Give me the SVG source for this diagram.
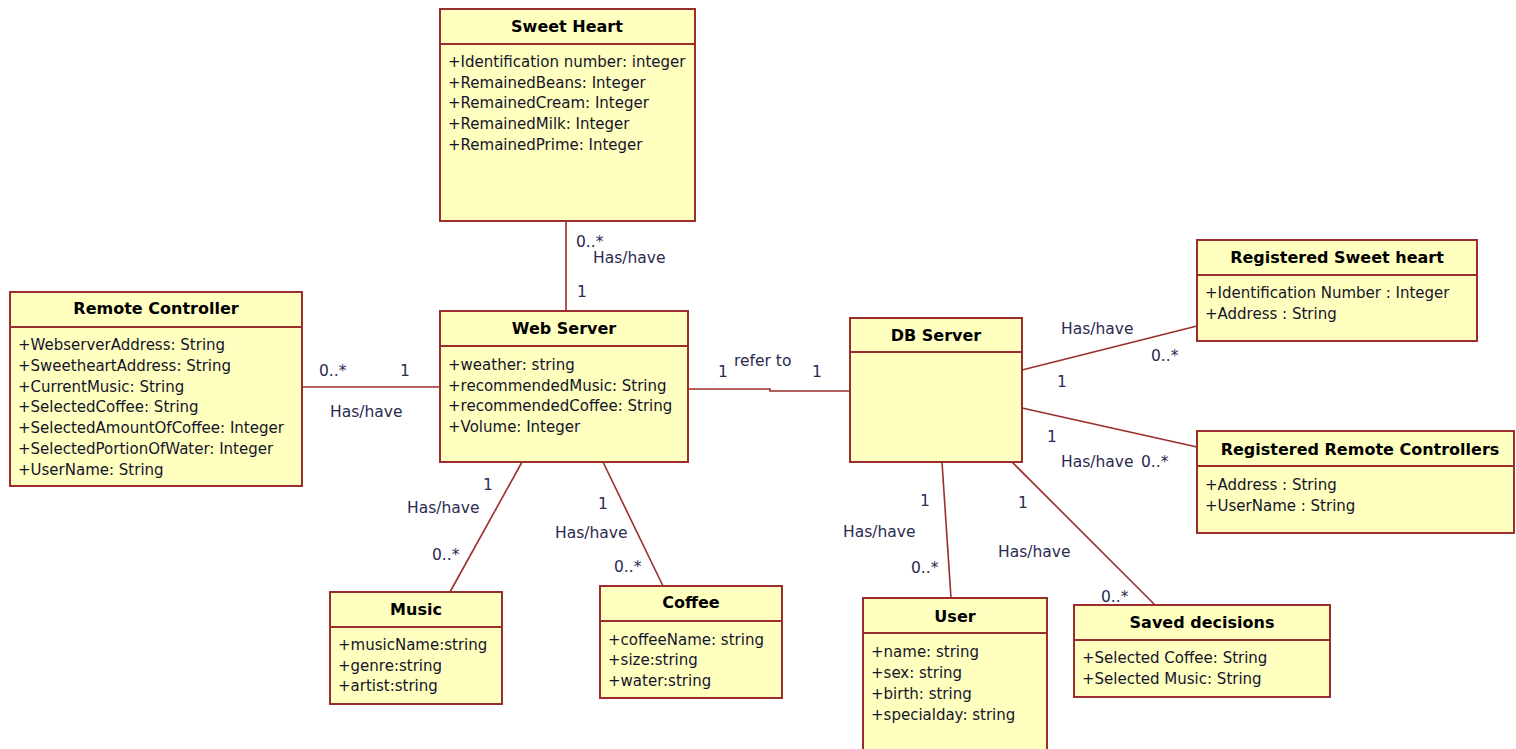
<svg xmlns="http://www.w3.org/2000/svg" width="1516" height="749" viewBox="0 0 1516 749">
<style>
.box{fill:#ffffc0;stroke:#9b2d2d;stroke-width:2}
.sep{stroke:#9b2d2d;stroke-width:2}
.t{font-family:"DejaVu Sans",Verdana,sans-serif;font-weight:bold;font-size:16px;fill:#000;text-anchor:middle}
.a{font-family:"DejaVu Sans",Verdana,sans-serif;font-size:15px;fill:#14142a}
.l{font-family:"DejaVu Sans",Verdana,sans-serif;font-size:15.5px;fill:#2b2b4f}
.c{fill:none;stroke:#9b2d2d;stroke-width:1.6}
</style>
<rect width="1516" height="749" fill="#fff"/>
<g id="connectors">
<line class="c" x1="566" y1="221" x2="566" y2="311"/>
<line class="c" x1="302" y1="387" x2="440" y2="387"/>
<polyline class="c" points="688,389 770,389 770,391 850,391"/>
<line class="c" x1="522" y1="462" x2="450" y2="592"/>
<line class="c" x1="603" y1="462" x2="663" y2="586"/>
<line class="c" x1="1022" y1="370" x2="1197" y2="326"/>
<line class="c" x1="1022" y1="408" x2="1197" y2="447"/>
<line class="c" x1="942" y1="462" x2="951" y2="598"/>
<line class="c" x1="1012" y1="462" x2="1155" y2="605"/>
<text class="l" x="576" y="247">0..*</text>
<text class="l" x="593" y="263">Has/have</text>
<text class="l" x="577" y="297">1</text>
<text class="l" x="319" y="376">0..*</text>
<text class="l" x="400" y="376">1</text>
<text class="l" x="330" y="417">Has/have</text>
<text class="l" x="718" y="377">1</text>
<text class="l" x="734" y="366">refer to</text>
<text class="l" x="812" y="377">1</text>
<text class="l" x="483" y="490">1</text>
<text class="l" x="407" y="513">Has/have</text>
<text class="l" x="432" y="560">0..*</text>
<text class="l" x="598" y="509">1</text>
<text class="l" x="555" y="538">Has/have</text>
<text class="l" x="614" y="572">0..*</text>
<text class="l" x="1061" y="334">Has/have</text>
<text class="l" x="1151" y="361">0..*</text>
<text class="l" x="1057" y="387">1</text>
<text class="l" x="1047" y="442">1</text>
<text class="l" x="1061" y="467">Has/have</text>
<text class="l" x="1141" y="467">0..*</text>
<text class="l" x="920" y="506">1</text>
<text class="l" x="843" y="537">Has/have</text>
<text class="l" x="911" y="573">0..*</text>
<text class="l" x="1018" y="508">1</text>
<text class="l" x="998" y="557">Has/have</text>
<text class="l" x="1101" y="602">0..*</text>
</g>
<g id="sweet-heart">
<rect class="box" x="440" y="9" width="255" height="212"/>
<line class="sep" x1="440" y1="44" x2="695" y2="44"/>
<text class="t" x="567" y="32">Sweet Heart</text>
<text class="a" x="448" y="67">+Identification number: integer</text>
<text class="a" x="448" y="88">+RemainedBeans: Integer</text>
<text class="a" x="448" y="108">+RemainedCream: Integer</text>
<text class="a" x="448" y="129">+RemainedMilk: Integer</text>
<text class="a" x="448" y="150">+RemainedPrime: Integer</text>
</g>
<g id="remote-controller">
<rect class="box" x="10" y="292" width="292" height="194"/>
<line class="sep" x1="10" y1="327" x2="302" y2="327"/>
<text class="t" x="156" y="314">Remote Controller</text>
<text class="a" x="18" y="350">+WebserverAddress: String</text>
<text class="a" x="18" y="371">+SweetheartAddress: String</text>
<text class="a" x="18" y="392">+CurrentMusic: String</text>
<text class="a" x="18" y="412">+SelectedCoffee: String</text>
<text class="a" x="18" y="433">+SelectedAmountOfCoffee: Integer</text>
<text class="a" x="18" y="454">+SelectedPortionOfWater: Integer</text>
<text class="a" x="18" y="475">+UserName: String</text>
</g>
<g id="web-server">
<rect class="box" x="440" y="311" width="248" height="151"/>
<line class="sep" x1="440" y1="346" x2="688" y2="346"/>
<text class="t" x="564" y="334">Web Server</text>
<text class="a" x="448" y="370">+weather: string</text>
<text class="a" x="448" y="390.5">+recommendedMusic: String</text>
<text class="a" x="448" y="411">+recommendedCoffee: String</text>
<text class="a" x="448" y="431.5">+Volume: Integer</text>
</g>
<g id="db-server">
<rect class="box" x="850" y="318" width="172" height="144"/>
<line class="sep" x1="850" y1="352" x2="1022" y2="352"/>
<text class="t" x="936" y="341">DB Server</text>
</g>
<g id="registered-sweet-heart">
<rect class="box" x="1197" y="240" width="280" height="101"/>
<line class="sep" x1="1197" y1="275" x2="1477" y2="275"/>
<text class="t" x="1337" y="263">Registered Sweet heart</text>
<text class="a" x="1205" y="298">+Identification Number : Integer</text>
<text class="a" x="1205" y="319">+Address : String</text>
</g>
<g id="registered-remote-controllers">
<rect class="box" x="1197" y="431" width="317" height="102"/>
<line class="sep" x1="1197" y1="466" x2="1514" y2="466"/>
<text class="t" x="1360" y="455">Registered Remote Controllers</text>
<text class="a" x="1205" y="490">+Address : String</text>
<text class="a" x="1205" y="511">+UserName : String</text>
</g>
<g id="music">
<rect class="box" x="330" y="592" width="172" height="112"/>
<line class="sep" x1="330" y1="627" x2="502" y2="627"/>
<text class="t" x="416" y="615">Music</text>
<text class="a" x="338" y="650">+musicName:string</text>
<text class="a" x="338" y="671">+genre:string</text>
<text class="a" x="338" y="691">+artist:string</text>
</g>
<g id="coffee">
<rect class="box" x="600" y="586" width="182" height="112"/>
<line class="sep" x1="600" y1="621" x2="782" y2="621"/>
<text class="t" x="691" y="608">Coffee</text>
<text class="a" x="608" y="645">+coffeeName: string</text>
<text class="a" x="608" y="665">+size:string</text>
<text class="a" x="608" y="686">+water:string</text>
</g>
<g id="user">
<rect class="box" x="863" y="598" width="184" height="170"/>
<line class="sep" x1="863" y1="633" x2="1047" y2="633"/>
<text class="t" x="955" y="622">User</text>
<text class="a" x="871" y="657">+name: string</text>
<text class="a" x="871" y="678">+sex: string</text>
<text class="a" x="871" y="699">+birth: string</text>
<text class="a" x="871" y="720">+specialday: string</text>
</g>
<g id="saved-decisions">
<rect class="box" x="1074" y="605" width="256" height="92"/>
<line class="sep" x1="1074" y1="640" x2="1330" y2="640"/>
<text class="t" x="1202" y="628">Saved decisions</text>
<text class="a" x="1082" y="663">+Selected Coffee: String</text>
<text class="a" x="1082" y="684">+Selected Music: String</text>
</g>
</svg>
